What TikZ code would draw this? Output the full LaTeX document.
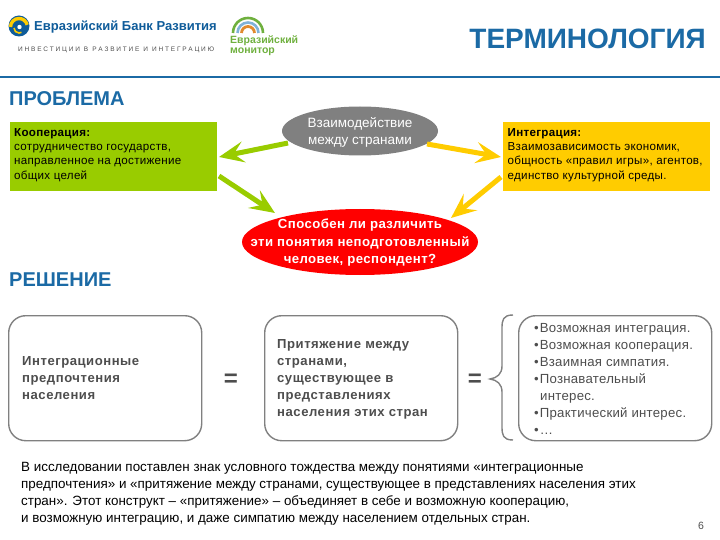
\documentclass[tikz,border=0pt]{standalone}
\usepackage{fontspec}
\setmainfont{Liberation Sans}
\newfontfamily\widea[LetterSpace=2.5]{Liberation Sans}
\newfontfamily\wideb[LetterSpace=4]{Liberation Sans}
\newfontfamily\widec[LetterSpace=2]{Liberation Sans}
\newfontfamily\wided[LetterSpace=3]{Liberation Sans}
\usetikzlibrary{shapes.geometric,arrows.meta}
\definecolor{ebblue}{HTML}{1B6AA5}
\definecolor{ebgreen}{HTML}{99CC00}
\definecolor{ebyellow}{HTML}{FFCC00}
\definecolor{ebgrey}{HTML}{808080}
\definecolor{ebdark}{HTML}{4D4D4D}
\definecolor{logoblue}{HTML}{0F5C9A}
\definecolor{logogreen}{HTML}{6FB03E}
\definecolor{logosky}{HTML}{7FB2D9}
\definecolor{logoorange}{HTML}{E08A2E}
\tikzset{
  x=1pt,y=-1pt,
  heading/.style={anchor=west,inner sep=0pt,text=ebblue,font=\bfseries\fontsize{20}{22}\selectfont},
  infobox/.style={anchor=north west,inner sep=0pt,minimum width=207pt,minimum height=69pt},
  boxtext/.style={anchor=north west,inner sep=0pt,align=left,text=black,font=\widea\fontsize{11.6}{14.3}\selectfont},
  bubble/.style={ellipse,inner sep=0pt},
  solbox/.style={anchor=north west,inner sep=0pt,draw=ebgrey,line width=1.4pt,rounded corners=17pt,minimum width=193pt,minimum height=125pt},
  soltext/.style={anchor=west,inner sep=0pt,align=left,text=ebdark,font=\wideb\bfseries\fontsize{13.1}{17}\selectfont},
  eqsign/.style={inner sep=0pt,text=ebdark,font=\bfseries\fontsize{24}{24}\selectfont},
  fatgreen/.style={draw=ebgreen,line width=5pt,-{Stealth[length=25pt,width=21pt,inset=10pt]}},
  fatyellow/.style={draw=ebyellow,line width=5pt,-{Stealth[length=25pt,width=21pt,inset=10pt]}},
}
\begin{document}
\begin{tikzpicture}
\useasboundingbox (0,0) rectangle (720,540);
% logo
\fill[logoblue] (19,26) circle (10.5);
\draw[ebyellow,line width=3.4pt] (10.5,27) arc (180:345:8.5);
\draw[ebyellow,line width=1.6pt] (14,28) arc (180:60:5);
\fill[white] (19.5,27) circle (2.2);
\node[anchor=west,inner sep=0pt,text=logoblue,font=\bfseries\fontsize{13}{14}\selectfont] (bank) at (34,27.5) {Евразийский Банк Развития};
\node[anchor=west,inner sep=0pt,text=ebdark,font=\fontsize{6.5}{8}\selectfont] (motto) at (18,50) {И Н В Е С Т И Ц И И\,\, В\,\, Р А З В И Т И Е\,\, И\,\, И Н Т Е Г Р А Ц И Ю};
\draw[logogreen,line width=2.6pt] (233,33) arc (180:360:15);
\draw[logosky,line width=2.6pt] (237.5,33) arc (180:360:10.5);
\draw[logoorange,line width=2.8pt] (241.5,33) arc (180:360:6.5);
\node[anchor=north west,inner sep=0pt,align=left,text=logogreen,font=\bfseries\fontsize{10.5}{10}\selectfont] (monitor) at (230,35) {Евразийский\\монитор};
% title
\node[anchor=east,inner sep=0pt,text=ebblue,font=\bfseries\fontsize{28}{30}\selectfont] (title) at (706,39) {ТЕРМИНОЛОГИЯ};
\draw[ebblue,line width=1.5pt] (0,77) -- (720,77);
\node[heading] (prob) at (9,99) {ПРОБЛЕМА};
\node[heading] (sol) at (9,280) {РЕШЕНИЕ};
% top boxes
\node[infobox,fill=ebgreen] (coop) at (10,122) {};
\node[boxtext] (cooptext) at (14,128) {\textbf{Кооперация:}\\сотрудничество государств,\\направленное на достижение\\общих целей};
\node[infobox,fill=ebyellow] (integ) at (503,122) {};
\node[boxtext] (integtext) at (507.5,128) {\textbf{Интеграция:}\\Взаимозависимость экономик,\\общность «правил игры», агентов,\\единство культурной среды.};
\node[bubble,fill=ebgrey,minimum width=156pt,minimum height=49pt] (inter) at (360,131) {};
\node[inner sep=0pt,align=center,text=white,font=\fontsize{13.5}{17}\selectfont] (intertext) at (360,132.5) {Взаимодействие\\между странами};
\node[bubble,fill=red,minimum width=236pt,minimum height=66pt] (q) at (360,242) {};
\node[inner sep=0pt,align=center,text=white,font=\wided\bfseries\fontsize{13.2}{17.5}\selectfont] (qtext) at (360,243) {Способен ли различить\\эти понятия неподготовленный\\человек, респондент?};
% arrows
\coordinate (a1) at (288,143);\coordinate (a2) at (219,157);
\coordinate (b1) at (219,176);\coordinate (b2) at (275,213);
\coordinate (c1) at (427,144);\coordinate (c2) at (501,157);
\coordinate (d1) at (501,177);\coordinate (d2) at (451,218);
\draw[fatgreen] (a1) -- (a2);
\draw[fatgreen] (b1) -- (b2);
\draw[fatyellow] (c1) -- (c2);
\draw[fatyellow] (d1) -- (d2);
% solution row
\node[solbox] (s1) at (8,315) {};
\node[soltext] (s1t) at (22,378.5) {Интеграционные\\предпочтения\\населения};
\node[eqsign] (eq1) at (231,380) {=};
\node[solbox] (s2) at (264,315) {};
\node[soltext] (s2t) at (277,379.5) {Притяжение между\\странами,\\существующее в\\представлениях\\населения этих стран};
\node[eqsign] (eq2) at (475,380) {=};
\draw[ebgrey,line width=1.4pt] (513,315) .. controls (503,315) and (502,320) .. (502,328) -- (502,366) .. controls (502,374) and (497,378) .. (490,379) .. controls (497,380) and (502,384) .. (502,392) -- (502,427) .. controls (502,435) and (503,440) .. (513,440);
\node[solbox] (s3) at (518,315) {};
\node[anchor=west,inner sep=0pt,align=left,text=ebdark,font=\widec\fontsize{13.2}{17}\selectfont] (s3t) at (534,379) {•\hspace{1pt}Возможная интеграция.\\•\hspace{1pt}Возможная кооперация.\\•\hspace{1pt}Взаимная симпатия.\\•\hspace{1pt}Познавательный\\\hspace*{6pt}интерес.\\•\hspace{1pt}Практический интерес.\\•\hspace{1pt}…};
% footer
\node[anchor=north west,inner sep=0pt,align=left,text=black,font=\fontsize{13.4}{17}\selectfont] (foot) at (21,462) {В исследовании поставлен знак условного тождества между понятиями «интеграционные\\предпочтения» и «притяжение между странами, существующее в представлениях населения этих\\стран». Этот конструкт – «притяжение» – объединяет в себе и возможную кооперацию,\\и возможную интеграцию, и даже симпатию между населением отдельных стран.};
\node[inner sep=0pt,text=ebdark,font=\fontsize{10.5}{12}\selectfont] (page) at (701,526) {6};
\end{tikzpicture}
\end{document}
